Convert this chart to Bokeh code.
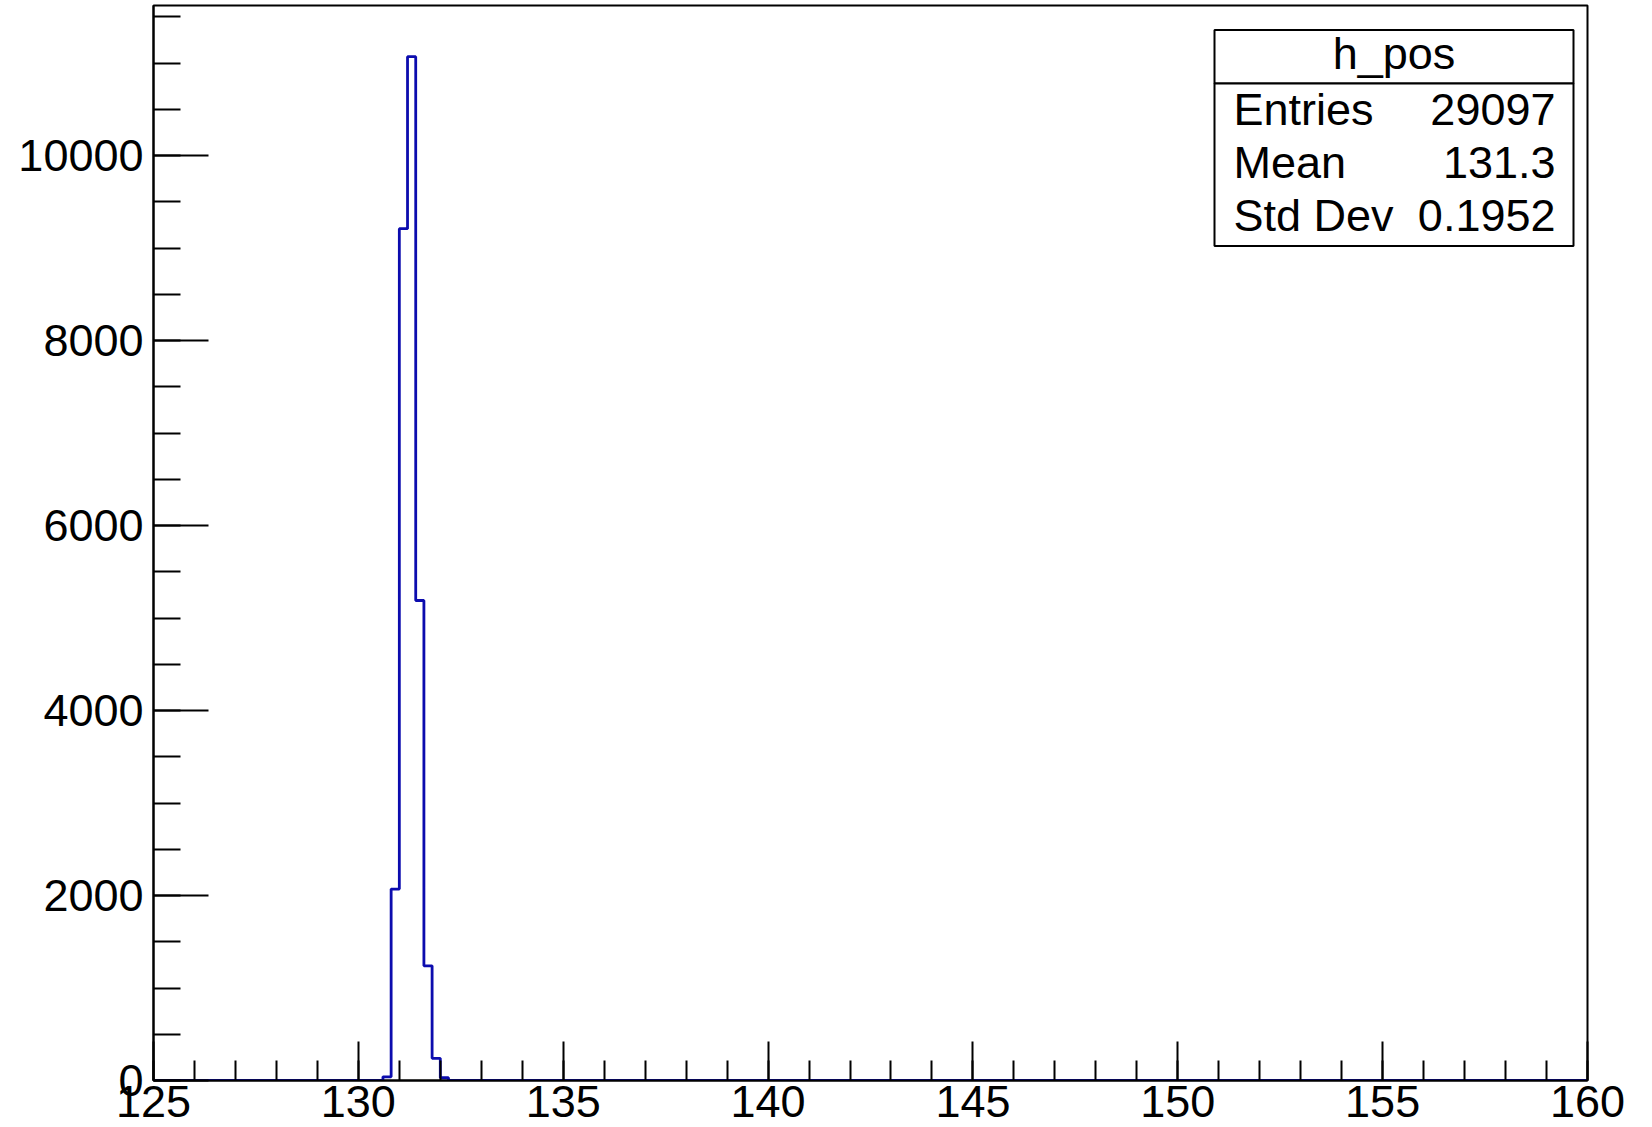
import numpy as np
from bokeh.plotting import figure
from bokeh.models import Range1d, SingleIntervalTicker, BoxAnnotation, Label
from bokeh.embed import file_html
from bokeh.resources import INLINE

# ---------------- data ----------------
hist_title = "h_pos"
x_min, x_max = 125.0, 160.0
bin_width = 0.2
bin_low_edges = [130.6, 130.8, 131.0, 131.2, 131.4, 131.6, 131.8, 132.0]
bin_counts = [40, 2070, 9210, 11070, 5190, 1240, 240, 30]
stats_names = ["Entries", "Mean", "Std Dev"]
stats_values = ["29097", "131.3", "0.1952"]

# ---------------- layout ----------------
FONT = "Liberation Sans"
W, H = 1652, 1127
BL, BR, BT, BB = 153, 65, 5, 47
y_top = max(bin_counts) * 1.05

# outline of the histogram (step through the filled bins)
xs = [x_min] + bin_low_edges + [bin_low_edges[-1] + bin_width, x_max]
ys = [0] + bin_counts + [0, 0]

p = figure(width=W, height=H, output_backend="svg", toolbar_location=None,
           x_range=Range1d(x_min, x_max), y_range=Range1d(0, y_top),
           min_border_left=BL, min_border_right=BR, min_border_top=BT,
           min_border_bottom=BB)
p.background_fill_color = "white"
p.border_fill_color = "white"
p.outline_line_color = "black"
p.outline_line_width = 2
p.xgrid.visible = False
p.ygrid.visible = False

p.step(xs, ys, mode="after", line_color="#0c0cae", line_width=2.8)

# axes
p.xaxis.ticker = SingleIntervalTicker(interval=5, num_minor_ticks=5)
p.yaxis.ticker = SingleIntervalTicker(interval=2000, num_minor_ticks=4)
for ax in (p.xaxis[0], p.yaxis[0]):
    ax.axis_line_color = "black"
    ax.axis_line_width = 2
    ax.major_tick_line_color = "black"
    ax.major_tick_line_width = 2
    ax.minor_tick_line_color = "black"
    ax.minor_tick_line_width = 2
    ax.major_tick_out = 0
    ax.minor_tick_out = 0
    ax.major_label_text_font = FONT
    ax.major_label_text_font_size = "45px"
    ax.major_label_text_color = "black"
p.xaxis.major_tick_in = 39
p.xaxis.minor_tick_in = 20
p.yaxis.major_tick_in = 55
p.yaxis.minor_tick_in = 27
p.xaxis.major_label_standoff = 5
p.yaxis.major_label_standoff = 10

# ---------------- stats box ----------------
FX0, FY1 = BL, H - BB          # pixel of frame left / frame bottom
FW, FH = W - BL - BR, H - BT - BB


def dx(px):
    return x_min + (px - FX0) * (x_max - x_min) / FW


def dy(py):
    return (FY1 - py) * y_top / FH


box_l, box_r, box_t, box_div, box_b = 1214, 1573, 29.5, 83, 245.5
p.add_layout(BoxAnnotation(left=dx(box_l), right=dx(box_r), top=dy(box_t), bottom=dy(box_div),
                           fill_color="white", fill_alpha=1.0, line_color="black",
                           line_width=2, line_alpha=1.0))
p.add_layout(BoxAnnotation(left=dx(box_l), right=dx(box_r), top=dy(box_div), bottom=dy(box_b),
                           fill_color="white", fill_alpha=1.0, line_color="black",
                           line_width=2, line_alpha=1.0))

p.add_layout(Label(x=dx((box_l + box_r) / 2), y=dy(53), text=hist_title,
                   text_align="center", text_baseline="middle",
                   text_font=FONT, text_font_size="45px", text_color="black"))
row_y = [108.5, 161.5, 215]
for name, val, ry in zip(stats_names, stats_values, row_y):
    p.add_layout(Label(x=dx(1233), y=dy(ry), text=name, text_align="left",
                       text_baseline="middle", text_font=FONT,
                       text_font_size="45px", text_color="black"))
    p.add_layout(Label(x=dx(1555), y=dy(ry), text=val, text_align="right",
                       text_baseline="middle", text_font=FONT,
                       text_font_size="45px", text_color="black"))

open("out.html", "w").write(file_html(p, INLINE))
